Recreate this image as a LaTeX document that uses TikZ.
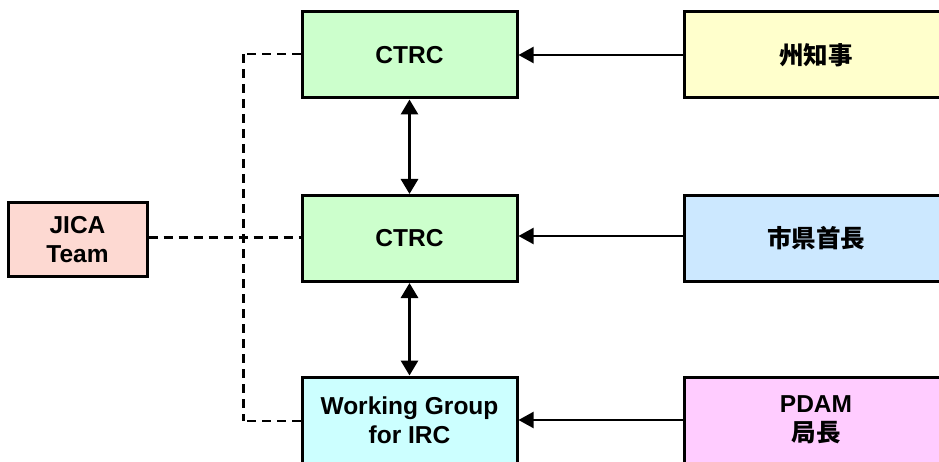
\documentclass[tikz,border=0pt]{standalone}
\usepackage{fontspec}
\setmainfont{Liberation Sans}
\newfontfamily\cjk{Noto Sans CJK JP}
\usetikzlibrary{arrows.meta}

\definecolor{jicafill}{HTML}{FDD9D2}
\definecolor{ctrcfill}{HTML}{CCFFCC}
\definecolor{wgfill}{HTML}{CCFFFF}
\definecolor{govfill}{HTML}{FFFFCC}
\definecolor{mayorfill}{HTML}{CCE8FF}
\definecolor{pdamfill}{HTML}{FFCCFF}

\tikzset{
  box/.style={draw=black, line width=3pt, align=center, inner sep=0pt,
    font=\fontsize{24.5}{29}\selectfont\bfseries},
  orgbox/.style={box, minimum width=215pt, minimum height=86pt},
  headbox/.style={box, minimum width=264pt, minimum height=86pt},
  jicabox/.style={box, minimum width=139pt, minimum height=73pt},
  report/.style={line width=2pt, -{Triangle[length=15pt,width=16pt]}},
  link/.style={line width=3pt, {Triangle[length=15pt,width=17pt]}-{Triangle[length=15pt,width=17pt]}},
  thickdash/.style={line width=3pt, dash pattern=on 9pt off 6pt},
  thindash/.style={line width=2pt, dash pattern=on 9pt off 6pt},
}

\begin{document}
\begin{tikzpicture}[x=1pt,y=1pt]
  \useasboundingbox (0,0) rectangle (939,461);
  \clip (0,0) rectangle (939,461);

  % central committees
  \node[orgbox, fill=ctrcfill] (ctrcA) at (409.5,406) {CTRC};
  \node[orgbox, fill=ctrcfill] (ctrcB) at (409.5,222.5) {CTRC};
  \node[orgbox, fill=wgfill]   (wg)    at (409.5,41) {Working Group\\for IRC};

  % heads of the bodies
  \node[headbox, fill=govfill]   (gov)   at (816,406) {\cjk 州知事};
  \node[headbox, fill=mayorfill] (mayor) at (816,222.5) {\cjk 市県首長};
  \node[headbox, fill=pdamfill]  (pdam)  at (816,41) {PDAM\\{\cjk 局長}};

  % advisory team
  \node[jicabox, fill=jicafill] (jica) at (77.5,221.5) {JICA\\Team};

  % reporting lines
  \draw[report] (gov.west) -- (ctrcA.east);
  \draw[report] (mayor.west |- 0,225) -- (ctrcB.east |- 0,225);
  \draw[report] (pdam.west) -- (wg.east);

  % links between committees
  \draw[link] (ctrcA.south) -- (ctrcB.north);
  \draw[link] (ctrcB.south) -- (wg.north);

  % advisory connections
  \coordinate (busTop) at (243,407);
  \coordinate (busBot) at (243,40);
  \draw[thickdash] (jica.east |- 0,223) -- (ctrcB.west |- 0,223);
  \draw[thickdash] (busTop) -- (busBot);
  \draw[thindash] (ctrcA.west |- busTop) -- (busTop);
  \draw[thindash] (wg.west |- busBot) -- (busBot);
\end{tikzpicture}
\end{document}
